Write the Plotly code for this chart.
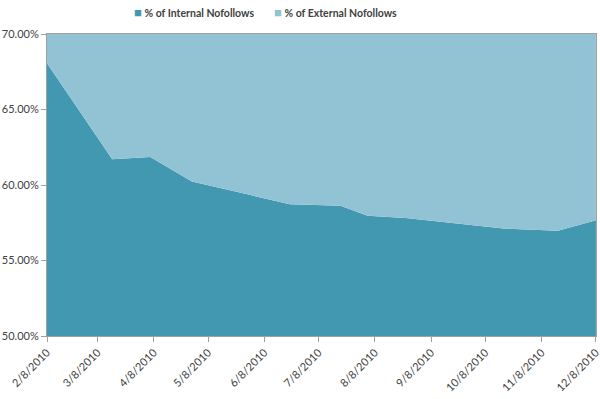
import plotly.graph_objects as go

dates = ["2010-02-08", "2010-03-16", "2010-04-06", "2010-04-29", "2010-06-22",
         "2010-07-20", "2010-08-04", "2010-08-25", "2010-10-18", "2010-11-17",
         "2010-12-08"]
internal = [68.06, 61.71, 61.86, 60.23, 58.73, 58.62, 57.96, 57.82, 57.12, 56.97, 57.67]
external = [round(100 - v, 2) for v in internal]

tick_dates = ["2010-%02d-08" % m for m in range(2, 13)]
tick_labels = ["%d/8/2010" % m for m in range(2, 13)]
y_ticks = [50, 55, 60, 65, 70]
y_labels = ["%.2f%%" % v for v in y_ticks]

c_int = "#4298B0"
c_ext = "#92C3D5"

fig = go.Figure()
fig.add_trace(go.Scatter(x=dates, y=internal, name="% of Internal Nofollows",
                         stackgroup="one", mode="none", fillcolor=c_int, showlegend=False))
fig.add_trace(go.Scatter(x=dates, y=external, name="% of External Nofollows",
                         stackgroup="one", mode="none", fillcolor=c_ext, showlegend=False))
for nm, c, lg in [("% of Internal Nofollows", c_int, "legend"),
                  ("% of External Nofollows", c_ext, "legend2")]:
    fig.add_trace(go.Scatter(x=[None], y=[None], mode="markers", legend=lg,
                             name='<span style="color:%s;font-size:13px">■</span> <b>%s</b>' % (c, nm),
                             marker=dict(symbol="square", size=1, color="rgba(0,0,0,0)")))

leg_common = dict(orientation="h", xanchor="left", xref="container",
                  y=1 - 13 / 399, yanchor="middle", yref="container",
                  font=dict(size=10.5, color="#404040"), itemwidth=30,
                  bgcolor="rgba(0,0,0,0)")

fig.update_layout(
    width=600, height=399,
    margin=dict(l=47, r=4, t=34, b=63, autoexpand=False),
    paper_bgcolor="white", plot_bgcolor="white",
    font=dict(family="Lato, Open Sans, sans-serif", size=11, color="#404040"),
    showlegend=True,
    legend=dict(x=(134 - 40) / 600, **leg_common),
    legend2=dict(x=(274 - 40) / 600, **leg_common),
    xaxis=dict(type="date", range=["2010-02-08", "2010-12-08 01:00"],
               tickmode="array", tickvals=tick_dates, ticktext=tick_labels,
               tickangle=-45, ticks="outside", ticklen=5, tickcolor="#A0A0A0",
               showline=True, linecolor="#A0A0A0", showgrid=False, mirror=True,
               automargin=False, ticklabeloverflow="allow"),
    yaxis=dict(range=[50, 70], tickmode="array", tickvals=y_ticks, ticktext=y_labels,
               ticks="outside", ticklen=5,
               tickcolor="#A0A0A0", showline=True, linecolor="#A0A0A0",
               showgrid=False, mirror=True, zeroline=False, automargin=False),
)

fig.write_html("out.html", config={"displayModeBar": False},
               post_script="document.body.style.margin='0';")
